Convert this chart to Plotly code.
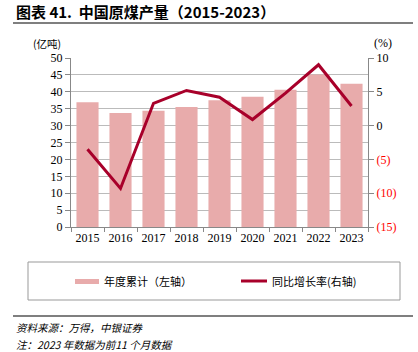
import plotly.graph_objects as go

years = ["2015", "2016", "2017", "2018", "2019", "2020", "2021", "2022", "2023"]
output = [36.9, 33.7, 34.4, 35.5, 37.5, 38.5, 40.6, 45.1, 42.4]
growth = [-3.5, -9.3, 3.3, 5.2, 4.2, 0.9, 4.8, 9.0, 2.9]
left_ticks = [0, 5, 10, 15, 20, 25, 30, 35, 40, 45, 50]
right_ticks = [10, 5, 0, -5, -10, -15]
right_labels = ["10", "5", "0", "(5)", "(10)", "(15)"]

BAR = "#E8ABAB"
LINE = "#A8002A"
FONT = "Liberation Serif, Noto Sans CJK SC, serif"
CJK = "Noto Sans CJK SC, Liberation Serif, sans-serif"

W, H = 418, 352
L, R, T, B = 71, 368, 58, 227


def px(x):
    return (x - L) / (R - L)


def py(y):
    return (B - y) / (B - T)


fig = go.Figure()
fig.add_trace(go.Bar(x=years, y=output, marker=dict(color=BAR, line=dict(width=0)),
                     name="年度累计（左轴）", showlegend=False))
fig.add_trace(go.Scatter(x=years, y=growth, yaxis="y2", mode="lines",
                         line=dict(color=LINE, width=3), name="同比增长率(右轴)",
                         showlegend=False))

rt = []
for v, t in zip(right_ticks, right_labels):
    rt.append(f'<span style="color:#FF0000">{t}</span>' if v < 0 else t)

fig.update_layout(
    width=W, height=H,
    margin=dict(l=L, r=W - R, t=T, b=H - B),
    paper_bgcolor="white", plot_bgcolor="white",
    bargap=0.33,
    font=dict(family=FONT, size=12, color="#000000"),
    xaxis=dict(type="category", showline=True, linecolor="#888888", linewidth=1,
               ticks="outside", ticklen=4, tickcolor="#888888", tickson="boundaries",
               showgrid=False, tickfont=dict(family=FONT, size=12)),
    yaxis=dict(range=[0, 50], tickvals=left_ticks, showline=True, linecolor="#888888",
               linewidth=1, ticks="outside", ticklen=5, tickcolor="#888888",
               showgrid=True, gridcolor="#BBBBBB", gridwidth=1, zeroline=False,
               tickfont=dict(family=FONT, size=12)),
    yaxis2=dict(range=[-15, 10], tickvals=right_ticks, ticktext=rt, overlaying="y",
                side="right", showline=True, linecolor="#888888", linewidth=1,
                ticks="outside", ticklen=5, tickcolor="#888888", showgrid=False,
                zeroline=False, tickfont=dict(family=FONT, size=12)),
)

ann = [
    dict(text="<b>图表 41.  中国原煤产量（2015-2023）</b>", x=px(14), y=py(12),
         xanchor="left", yanchor="middle", font=dict(family=CJK, size=15)),
    dict(text="(亿吨)", x=px(47), y=py(43), xanchor="center", yanchor="middle",
         font=dict(family=CJK, size=10.5)),
    dict(text="(%)", x=px(383), y=py(43), xanchor="center", yanchor="middle",
         font=dict(family=FONT, size=12)),
    dict(text="年度累计（左轴）", x=px(102), y=py(281), xanchor="left", yanchor="middle",
         font=dict(family=CJK, size=11)),
    dict(text="同比增长率(右轴)", x=px(270), y=py(281), xanchor="left", yanchor="middle",
         font=dict(family=CJK, size=11)),
    dict(text="<i>资料来源：万得，中银证券</i>", x=px(14), y=py(327), xanchor="left",
         yanchor="middle", font=dict(family=CJK, size=10.5)),
    dict(text="<i>注：2023 年数据为前11 个月数据</i>", x=px(14), y=py(344), xanchor="left",
         yanchor="middle", font=dict(family=CJK, size=10.5)),
]
for a in ann:
    a.update(xref="paper", yref="paper", showarrow=False)
    fig.add_annotation(**a)

shapes = [
    dict(type="line", x0=px(13), x1=px(413), y0=py(23), y1=py(23),
         line=dict(color="#555555", width=1.5)),
    dict(type="rect", x0=px(28), x1=px(400), y0=py(262), y1=py(300),
         line=dict(color="#999999", width=1)),
    dict(type="rect", x0=px(75), x1=px(99), y0=py(279), y1=py(284),
         fillcolor=BAR, line=dict(width=0)),
    dict(type="line", x0=px(241), x1=px(267), y0=py(281), y1=py(281),
         line=dict(color=LINE, width=3)),
    dict(type="line", x0=px(13), x1=px(413), y0=py(316), y1=py(316),
         line=dict(color="#555555", width=1.5)),
]
for s in shapes:
    s.update(xref="paper", yref="paper")
    fig.add_shape(**s)

fig.write_html("out.html")
